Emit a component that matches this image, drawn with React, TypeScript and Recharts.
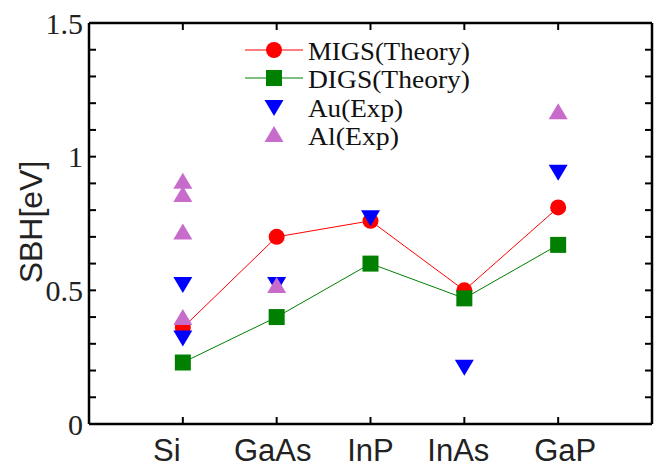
import React from 'react';
import { ScatterChart, Scatter, XAxis, YAxis, Legend } from 'recharts';

const categories = ['Si', 'GaAs', 'InP', 'InAs', 'GaP'];
const migsValues = [0.36, 0.7, 0.76, 0.5, 0.81];
const digsValues = [0.23, 0.4, 0.6, 0.47, 0.67];
const auValues = [[0.52, 0.32], [0.52], [0.77], [0.21], [0.94]];
const alValues = [[0.91, 0.86, 0.72, 0.4], [0.52], [], [], [1.17]];
const xTicks = [1, 2, 3, 4, 5];
const yTicks = [0, 0.1, 0.2, 0.3, 0.4, 0.5, 0.6, 0.7, 0.8, 0.9, 1, 1.1, 1.2, 1.3, 1.4, 1.5];
const yMajor = [0, 0.5, 1, 1.5];

const RED = '#ff0000';
const GREEN = '#008000';
const BLUE = '#0000ff';
const PURPLE = '#c86ccc';

const toPoints = (vals: number[]) => vals.map((y, i) => ({ x: i + 1, y }));
const toGroupPoints = (groups: number[][]) => groups.flatMap((g, i) => g.map((y) => ({ x: i + 1, y })));

const migsData = toPoints(migsValues);
const digsData = toPoints(digsValues);
const auData = toGroupPoints(auValues);
const alData = toGroupPoints(alValues);

// small hand nudges so the category labels sit like in the figure
const labelShift = [-16, -4, 0, -6, 7];

const Circle = ({ cx, cy, fill }: any) => <circle cx={cx} cy={cy} r={8} fill={fill} />;
const Square = ({ cx, cy, fill }: any) => <rect x={cx - 8} y={cy - 8} width={16} height={16} fill={fill} />;
const TriDown = ({ cx, cy, fill }: any) => (
  <path d={`M${cx - 9.5},${cy - 8}L${cx + 9.5},${cy - 8}L${cx},${cy + 8}Z`} fill={fill} />
);
const TriUp = ({ cx, cy, fill }: any) => (
  <path d={`M${cx - 9.5},${cy + 8}L${cx + 9.5},${cy + 8}L${cx},${cy - 8}Z`} fill={fill} />
);

const XTick = ({ x, y, payload }: any) => {
  const i = payload.value - 1;
  return (
    <text
      x={x + (labelShift[i] || 0)}
      y={y + 19}
      textAnchor="middle"
      fontFamily="'Liberation Sans', Arial, sans-serif"
      fontSize={31}
      fill="#222"
    >
      {categories[i]}
    </text>
  );
};

const EmptyTick = () => <g />;

const legendItems = [
  { name: 'MIGS(Theory)', color: RED, kind: 'circle', len: 162 },
  { name: 'DIGS(Theory)', color: GREEN, kind: 'square', len: 162 },
  { name: 'Au(Exp)', color: BLUE, kind: 'down', len: 95 },
  { name: 'Al(Exp)', color: PURPLE, kind: 'up', len: 91 },
];
const legendRows = [15, 43, 72, 100];

const LegendBox = () => (
  <svg width={260} height={120} style={{ display: 'block' }}>
    {legendItems.map((it, i) => {
      const cy = legendRows[i];
      const cx = 34;
      return (
        <g key={it.name}>
          {(it.kind === 'circle' || it.kind === 'square') && (
            <line x1={5} x2={63} y1={cy} y2={cy} stroke={it.color} strokeWidth={1} />
          )}
          {it.kind === 'circle' && <Circle cx={cx} cy={cy} fill={it.color} />}
          {it.kind === 'square' && <Square cx={cx} cy={cy} fill={it.color} />}
          {it.kind === 'down' && <TriDown cx={cx} cy={i === 2 ? cy + 1 : cy} fill={it.color} />}
          {it.kind === 'up' && <TriUp cx={cx} cy={cy - 1} fill={it.color} />}
          <text
            x={68}
            y={cy + 10}
            textLength={it.len}
            lengthAdjust="spacingAndGlyphs"
            fontFamily="'Liberation Serif', 'Times New Roman', serif"
            fontSize={25}
            fill="#111"
          >
            {it.name}
          </text>
        </g>
      );
    })}
  </svg>
);

const App: React.FC = () => {
  const axisLine = { stroke: '#000', strokeWidth: 2.5 };
  const tickLine = { stroke: '#000', strokeWidth: 2 };
  return (
    <div style={{ position: 'absolute', left: 0, top: 0, width: 660, height: 468, background: '#fff' }}>
      <ScatterChart width={660} height={468} margin={{ top: 22, right: 7, bottom: 0, left: 0 }}>
        <XAxis
          xAxisId="b"
          type="number"
          dataKey="x"
          domain={[0, 6]}
          ticks={xTicks}
          allowDataOverflow
          height={44}
          axisLine={axisLine}
          tickLine={tickLine}
          tickSize={-7}
          tickMargin={25}
          tick={<XTick />}
        />
        <XAxis
          xAxisId="t"
          orientation="top"
          type="number"
          dataKey="x"
          domain={[0, 6]}
          ticks={xTicks}
          allowDataOverflow
          height={1}
          axisLine={axisLine}
          tickLine={tickLine}
          tickSize={-7}
          tick={<EmptyTick />}
        />
        <YAxis
          yAxisId="l"
          type="number"
          dataKey="y"
          domain={[0, 1.5]}
          ticks={yTicks}
          interval={0}
          allowDataOverflow
          width={89}
          axisLine={axisLine}
          tickLine={tickLine}
          tickSize={-7}
          tickMargin={13}
          tickFormatter={(v: number) => (yMajor.includes(v) ? String(v) : '')}
          tick={{ fontFamily: "'Liberation Serif', 'Times New Roman', serif", fontSize: 30, fill: '#222' }}
          label={{
            value: 'SBH[eV]',
            content: () => (
              <text
                x={42}
                y={222}
                transform="rotate(-90, 42, 222)"
                textAnchor="middle"
                fontFamily="'Liberation Sans', Arial, sans-serif"
                fontSize={32}
                fill="#222"
              >
                SBH[eV]
              </text>
            ),
          }}
        />
        <YAxis
          yAxisId="r"
          orientation="right"
          type="number"
          dataKey="y"
          domain={[0, 1.5]}
          ticks={yTicks}
          interval={0}
          allowDataOverflow
          width={1}
          axisLine={axisLine}
          tickLine={tickLine}
          tickSize={-7}
          tick={<EmptyTick />}
        />
        <Legend
          layout="vertical"
          align="center"
          verticalAlign="middle"
          wrapperStyle={{ left: 240, top: 35, width: 260 }}
          content={() => <LegendBox />}
        />
        <Scatter
          name="MIGS(Theory)"
          data={migsData}
          xAxisId="b"
          yAxisId="l"
          fill={RED}
          line={{ stroke: RED, strokeWidth: 1 }}
          shape={<Circle />}
          isAnimationActive={false}
        />
        <Scatter
          name="DIGS(Theory)"
          data={digsData}
          xAxisId="b"
          yAxisId="l"
          fill={GREEN}
          line={{ stroke: GREEN, strokeWidth: 1 }}
          shape={<Square />}
          isAnimationActive={false}
        />
        <Scatter
          name="Au(Exp)"
          data={auData}
          xAxisId="b"
          yAxisId="l"
          fill={BLUE}
          shape={<TriDown />}
          isAnimationActive={false}
        />
        <Scatter
          name="Al(Exp)"
          data={alData}
          xAxisId="b"
          yAxisId="l"
          fill={PURPLE}
          shape={<TriUp />}
          isAnimationActive={false}
        />
      </ScatterChart>
    </div>
  );
};

export default App;
